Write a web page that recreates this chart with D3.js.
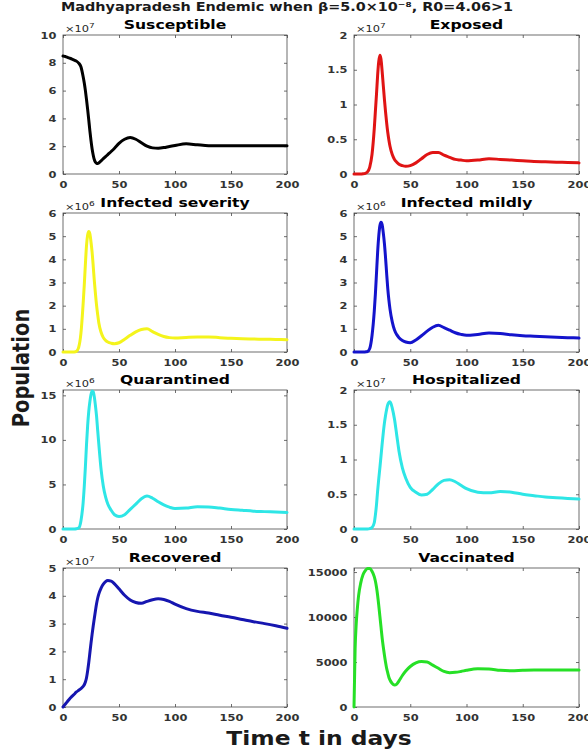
<!DOCTYPE html>
<html>
<head>
<meta charset="utf-8">
<script src="https://cdn.jsdelivr.net/npm/d3@7"></script>
<style>
  html, body { margin: 0; padding: 0; background: #ffffff; }
  svg { display: block; }
  text { font-family: "DejaVu Sans", sans-serif; }
</style>
</head>
<body>
<script>
// ---------------- DATA ----------------
const days = [0,1,2,3,4,6,8,10,12,14,16,18,19,20,21,22,23,24,25,26,27,28,29,30,31,32,34,36,38,40,43,46,50,55,60,65,70,75,80,85,90,95,100,110,120,130,140,150,160,170,180,190,200];

// ×10^7
const susceptible = [8.49,8.47,8.45,8.42,8.39,8.33,8.27,8.2,8.12,7.98,7.72,7.0,6.55,6.0,5.35,4.65,3.9,3.1,2.4,1.8,1.35,1.02,0.84,0.76,0.76,0.8,0.95,1.1,1.25,1.4,1.62,1.85,2.2,2.5,2.62,2.5,2.25,2.0,1.88,1.86,1.9,1.98,2.05,2.17,2.1,2.04,2.03,2.03,2.03,2.03,2.03,2.03,2.03];
// ×10^7
const exposed = [0,0,0,0,0,0,0.003,0.01,0.03,0.1,0.28,0.65,0.9,1.15,1.42,1.62,1.71,1.65,1.48,1.28,1.08,0.9,0.74,0.6,0.49,0.4,0.28,0.21,0.17,0.14,0.12,0.11,0.12,0.16,0.22,0.28,0.31,0.31,0.27,0.24,0.21,0.2,0.19,0.2,0.22,0.21,0.2,0.19,0.18,0.175,0.17,0.165,0.16];
// ×10^6
const infectedSevere = [0,0,0,0,0,0,0,0.005,0.03,0.2,0.8,2.1,2.9,3.8,4.6,5.05,5.2,5.1,4.75,4.3,3.7,3.05,2.5,2.0,1.6,1.25,0.85,0.62,0.5,0.43,0.38,0.36,0.4,0.55,0.72,0.87,0.97,1.0,0.88,0.76,0.67,0.62,0.6,0.63,0.65,0.65,0.62,0.59,0.57,0.56,0.55,0.54,0.53];
// ×10^6
const infectedMild = [0,0,0,0,0,0,0,0.005,0.02,0.15,0.7,1.75,2.5,3.4,4.3,5.0,5.45,5.6,5.5,5.15,4.7,4.1,3.4,2.75,2.25,1.85,1.3,0.95,0.75,0.62,0.5,0.43,0.4,0.52,0.7,0.9,1.07,1.15,1.05,0.94,0.83,0.76,0.72,0.76,0.82,0.8,0.74,0.7,0.68,0.66,0.64,0.62,0.6];
// ×10^6
const quarantined = [0,0,0,0,0,0,0,0,0.02,0.1,0.9,3.0,4.8,7.0,9.5,11.6,13.2,14.3,15.1,15.5,15.4,14.8,13.8,12.6,11.0,9.5,6.7,4.8,3.6,2.8,2.1,1.6,1.4,1.6,2.2,2.8,3.4,3.7,3.45,3.05,2.7,2.45,2.3,2.35,2.5,2.48,2.35,2.2,2.1,2.0,1.95,1.9,1.85];
// ×10^7
const hospitalized = [0,0,0,0,0,0,0,0,0,0.005,0.02,0.09,0.2,0.35,0.55,0.72,0.88,1.05,1.22,1.38,1.52,1.63,1.72,1.79,1.82,1.83,1.74,1.58,1.35,1.12,0.88,0.73,0.6,0.53,0.49,0.5,0.57,0.65,0.7,0.71,0.68,0.63,0.58,0.53,0.52,0.54,0.53,0.5,0.48,0.46,0.45,0.44,0.43];
// ×10^7
const recovered = [0,0.05,0.1,0.15,0.2,0.3,0.38,0.46,0.54,0.6,0.66,0.74,0.8,0.9,1.05,1.3,1.6,1.95,2.3,2.62,2.92,3.2,3.47,3.72,3.92,4.07,4.28,4.42,4.51,4.55,4.53,4.43,4.25,4.02,3.85,3.76,3.73,3.8,3.86,3.89,3.87,3.8,3.7,3.54,3.44,3.38,3.3,3.23,3.15,3.07,3.0,2.92,2.83];
// plain units
const vaccinated = [0,6500,9300,11000,12300,13800,14700,15150,15400,15400,15100,14500,14000,13300,12400,11300,10100,8900,7700,6700,5800,5000,4300,3800,3300,3000,2600,2450,2550,2900,3500,4000,4500,4900,5050,5000,4650,4300,3950,3820,3850,3950,4080,4250,4220,4080,4030,4080,4110,4110,4110,4110,4110];

const panelTitles = ["Susceptible","Exposed","Infected severity","Infected mildly","Quarantined","Hospitalized","Recovered","Vaccinated"];
const exponents = [7,7,6,6,6,7,7,null];
const xTicks = [0,50,100,150,200];
const yTicksList = [
  [0,2,4,6,8,10],
  [0,0.5,1,1.5,2],
  [0,1,2,3,4,5,6],
  [0,1,2,3,4,5,6],
  [0,5,10,15],
  [0,0.5,1,1.5,2],
  [0,1,2,3,4,5],
  [0,5000,10000,15000]
];
const yMaxList = [10,2,6,6,15.6,2,5,15450];
const seriesList = [susceptible,exposed,infectedSevere,infectedMild,quarantined,hospitalized,recovered,vaccinated];
const colors = ["#000000","#e01414","#f4f41c","#1414cc","#2ee6e6","#2ee6e6","#1616b0","#26e026"];

const mainTitle = "Madhyapradesh Endemic when β=5.0×10⁻⁸, R0=4.06>1";
const xLabel = "Time t in days";
const yLabel = "Population";

// ---------------- DRAW ----------------
const W = 588, H = 755;
const SX = 1.2; // horizontal text stretch of the reference
const svg = d3.select("body").append("svg").attr("width", W).attr("height", H);

const colX = [[63,287],[354,579]];
const rowTop = [35,213,390,568];
const plotH = 139;

seriesList.forEach((vals, i) => {
  const col = i % 2, row = Math.floor(i / 2);
  const [x0, x1] = colX[col];
  const yT = rowTop[row], yB = yT + plotH;
  const x = d3.scaleLinear().domain([0,200]).range([x0,x1]);
  const y = d3.scaleLinear().domain([0,yMaxList[i]]).range([yB,yT]);
  const g = svg.append("g");

  // box
  g.append("rect").attr("x",x0).attr("y",yT).attr("width",x1-x0).attr("height",plotH)
    .attr("fill","none").attr("stroke","#4a4a4a").attr("stroke-width",0.8);

  const fmt = v => String(v);
  const ax = g.append("g").attr("transform",`translate(0,${yB})`)
    .call(d3.axisBottom(x).tickValues(xTicks).tickSize(-3).tickPadding(7).tickFormat(fmt));
  const ay = g.append("g").attr("transform",`translate(${x0},0)`)
    .call(d3.axisLeft(y).tickValues(yTicksList[i]).tickSize(-3).tickPadding(5.5).tickFormat(fmt));
  const at = g.append("g").attr("transform",`translate(0,${yT})`)
    .call(d3.axisTop(x).tickValues(xTicks).tickSize(-3).tickFormat(""));
  const ar = g.append("g").attr("transform",`translate(${x1},0)`)
    .call(d3.axisRight(y).tickValues(yTicksList[i]).tickSize(-3).tickFormat(""));

  [ax,ay,at,ar].forEach(a => {
    a.select(".domain").remove();
    a.selectAll(".tick line").attr("stroke","#4a4a4a").attr("stroke-width",0.8);
    a.selectAll(".tick text")
      .attr("font-family","DejaVu Sans, sans-serif")
      .attr("font-size",9.5)
      .attr("font-weight","bold")
      .attr("fill","#333333")
      .attr("transform",`scale(${SX},1)`);
  });

  const line = d3.line()
    .x((d,j) => x(days[j]))
    .y(d => y(d))
    .curve(d3.curveMonotoneX);
  g.append("path").datum(vals).attr("d",line)
    .attr("fill","none").attr("stroke",colors[i]).attr("stroke-width",3)
    .attr("stroke-linejoin","round").attr("stroke-linecap","round");

  g.append("text")
    .attr("transform",`translate(${(x0+x1)/2},${yT-6}) scale(${SX},1)`)
    .attr("text-anchor","middle").attr("font-size",13).attr("font-weight","bold")
    .attr("fill","#000").text(panelTitles[i]);

  if (exponents[i] !== null) {
    const t = g.append("text")
      .attr("transform",`translate(${x0+2},${yT-3}) scale(${SX},1)`)
      .attr("font-size",9.5).attr("fill","#262626");
    t.append("tspan").text("×10");
    t.append("tspan").attr("dy",-4).attr("font-size",7.5).text(String(exponents[i]));
  }
});

svg.append("text")
  .attr("transform",`translate(287,11) scale(${SX},1)`)
  .attr("text-anchor","middle").attr("font-size",12).attr("font-weight","bold")
  .attr("fill","#1a1a1a").text(mainTitle);

svg.append("text")
  .attr("transform",`translate(319,745) scale(${SX},1)`)
  .attr("text-anchor","middle").attr("font-size",19.5).attr("font-weight","bold")
  .attr("fill","#1a1a1a").text(xLabel);

svg.append("text")
  .attr("transform",`translate(29,368) scale(${SX},1) rotate(-90)`)
  .attr("text-anchor","middle").attr("font-size",19.5).attr("font-weight","bold")
  .attr("fill","#1a1a1a").text(yLabel);
</script>
</body>
</html>
